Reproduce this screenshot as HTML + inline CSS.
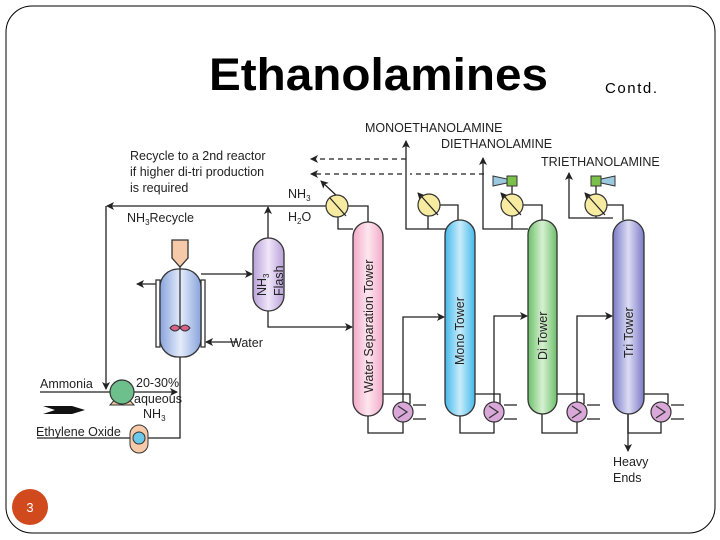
<!DOCTYPE html>
<html><head><meta charset="utf-8"><style>
html,body{margin:0;padding:0;background:#fff;}
svg{display:block;font-family:"Liberation Sans",Arial,sans-serif;}
</style></head><body>
<svg width="720" height="540" viewBox="0 0 720 540" xmlns="http://www.w3.org/2000/svg">
<defs>
<marker id="a" markerWidth="8" markerHeight="8" refX="7" refY="4" orient="auto" markerUnits="userSpaceOnUse"><path d="M0,0 L8,4 L0,8 L2,4 Z" fill="#222"/></marker>
<linearGradient id="gp" x1="0" x2="1"><stop offset="0" stop-color="#f3a9c8"/><stop offset=".5" stop-color="#fde6ef"/><stop offset="1" stop-color="#f3a9c8"/></linearGradient>
<linearGradient id="gb" x1="0" x2="1"><stop offset="0" stop-color="#44b8ea"/><stop offset=".5" stop-color="#c8ecfb"/><stop offset="1" stop-color="#44b8ea"/></linearGradient>
<linearGradient id="gg" x1="0" x2="1"><stop offset="0" stop-color="#6cc06a"/><stop offset=".5" stop-color="#d7f0d2"/><stop offset="1" stop-color="#6cc06a"/></linearGradient>
<linearGradient id="gv" x1="0" x2="1"><stop offset="0" stop-color="#7a7ac8"/><stop offset=".5" stop-color="#dcdcf4"/><stop offset="1" stop-color="#7a7ac8"/></linearGradient>
<linearGradient id="gr" x1="0" x2="1"><stop offset="0" stop-color="#88a4dc"/><stop offset=".5" stop-color="#e4ecfa"/><stop offset="1" stop-color="#88a4dc"/></linearGradient>
<linearGradient id="gf" x1="0" x2="1"><stop offset="0" stop-color="#b9a0d8"/><stop offset=".5" stop-color="#efe6f8"/><stop offset="1" stop-color="#b9a0d8"/></linearGradient>
</defs>
<rect x="6" y="6" width="709" height="527" rx="26" fill="none" stroke="#000" stroke-width="1"/>
<text x="209" y="90" font-size="45" font-weight="bold" textLength="339" lengthAdjust="spacingAndGlyphs">Ethanolamines</text>
<text x="605" y="93" font-size="15" textLength="52" lengthAdjust="spacing">Contd.</text>
<circle cx="30" cy="507" r="18" fill="#d04a1e"/>
<text x="30" y="512" font-size="13" fill="#fff" text-anchor="middle">3</text>

<g stroke="#222" stroke-width="1.3" fill="none">
<path d="M326 206 H107" marker-end="url(#a)"/>
<path d="M106 206 V389" marker-end="url(#a)"/>
<path d="M268 238 V207" marker-end="url(#a)"/>
<path d="M338 197 L321 181" marker-end="url(#a)"/>
<path d="M348 206 H368 V222"/>
<path d="M338 216 V229 H353"/>
<path d="M406 159 H311" stroke-dasharray="5,4" marker-end="url(#a)"/>
<path d="M402 174 H311" stroke-dasharray="5,4" marker-end="url(#a)"/>
<path d="M484 174 H410" stroke-dasharray="5,4"/>
<path d="M446 229 H406 V141" marker-end="url(#a)"/>
<path d="M428 216 V229"/><path d="M440 205 H458 V220"/>
<path d="M528 229 H483 V158" marker-end="url(#a)"/>
<path d="M512 216 V229"/><path d="M523 205 H542 V220"/>
<path d="M512 194 V185"/>
<path d="M613 218 H569 V173" marker-end="url(#a)"/>
<path d="M596 216 V218"/><path d="M607 205 H623 V220"/>
<path d="M596 194 V185"/>
<path d="M437 214 L418 193" marker-end="url(#a)"/>
<path d="M520 214 L501 193" marker-end="url(#a)"/>
<path d="M604 214 L585 193" marker-end="url(#a)"/>
<path d="M268 311 V327 H352" marker-end="url(#a)"/>
<path d="M201 274 H252" marker-end="url(#a)"/>
<path d="M160 284 H137" marker-end="url(#a)"/>
<path d="M238 342 H206" marker-end="url(#a)"/>
<path d="M180 357 V438 H37"/>
<path d="M40 392 H177" marker-end="url(#a)"/>
<path d="M383 394 H410 V404"/><path d="M368 416 V433 H403 V422"/><path d="M403 402 V317 H444" marker-end="url(#a)"/>
<path d="M475 394 H500 V404"/><path d="M460 416 V433 H494 V422"/><path d="M494 402 V316 H527" marker-end="url(#a)"/>
<path d="M557 394 H584 V404"/><path d="M542 414 V433 H577 V422"/><path d="M577 402 V316 H612" marker-end="url(#a)"/>
<path d="M644 394 H668 V404"/><path d="M628 414 V433 H661 V422"/>
<path d="M628 414 V451" marker-end="url(#a)"/>
<path d="M413 405 H426 M413 419 H426 M504 405 H517 M504 419 H517 M587 405 H600 M587 419 H600 M671 405 H684 M671 419 H684"/>
</g>

<g stroke="#333" stroke-width="1.3">
<rect x="353" y="222" width="30" height="194" rx="15" fill="url(#gp)"/>
<rect x="445" y="220" width="30" height="196" rx="15" fill="url(#gb)"/>
<rect x="528" y="220" width="29" height="194" rx="14.5" fill="url(#gg)"/>
<rect x="613" y="220" width="31" height="194" rx="15.5" fill="url(#gv)"/>
<rect x="253" y="238" width="31" height="73" rx="15.5" fill="url(#gf)"/>
<rect x="156" y="280" width="4" height="67" fill="#fff"/>
<rect x="201" y="280" width="4" height="67" fill="#fff"/>
<rect x="160" y="269" width="41" height="88" rx="18" fill="url(#gr)"/>
<path d="M172 240 H188 V258 L180 267 L172 258 Z" fill="#f6c9a8"/>
<line x1="180" y1="267" x2="180" y2="328"/>
</g>
<path d="M170 328 Q175 322 180 328 Q185 334 190 328 Q185 322 180 328 Q175 334 170 328Z" fill="#d8628a" stroke="#333" stroke-width="1"/>

<g stroke="#333" stroke-width="1.2" fill="#f6eba0">
<circle cx="337" cy="206" r="11"/><circle cx="429" cy="205" r="11"/><circle cx="512" cy="205" r="11"/><circle cx="596" cy="205" r="11"/>
</g>
<g stroke="#222" stroke-width="1.2">
<line x1="330" y1="198" x2="346" y2="216"/><line x1="422" y1="197" x2="438" y2="215"/><line x1="505" y1="197" x2="521" y2="215"/><line x1="589" y1="197" x2="605" y2="215"/>
</g>
<g stroke="#333" stroke-width="1">
<rect x="507" y="176" width="10" height="10" fill="#7cc04c"/>
<path d="M493 176 L507 179 V183 L493 186 Z" fill="#9cc8e0"/>
<rect x="591" y="176" width="10" height="10" fill="#7cc04c"/>
<path d="M615 176 L601 179 V183 L615 186 Z" fill="#9cc8e0"/>
</g>
<g stroke="#333" stroke-width="1.2" fill="#d9a8d8">
<circle cx="403" cy="412" r="10"/><circle cx="494" cy="412" r="10"/><circle cx="577" cy="412" r="10"/><circle cx="661" cy="412" r="10"/>
</g>
<g stroke="#333" stroke-width="1.2" fill="none">
<path d="M398 406 L407 412 L398 418"/><path d="M489 406 L498 412 L489 418"/><path d="M572 406 L581 412 L572 418"/><path d="M656 406 L665 412 L656 418"/>
</g>
<path d="M110 405 L134 405 L126 396 L118 396 Z" fill="#e8c8a0" stroke="#333"/>
<circle cx="122" cy="392" r="12" fill="#6dbf8c" stroke="#333" stroke-width="1.2"/>
<rect x="130" y="425" width="18" height="28" rx="9" fill="#f6c9a8" stroke="#333"/>
<circle cx="139" cy="438" r="6" fill="#6cc8e8" stroke="#333"/>
<path d="M43 406 H72 L85 410 L72 414 H43 L55 410 Z" fill="#111"/>

<g font-size="12.5" fill="#222">
<text x="130" y="160">Recycle to a 2nd reactor</text>
<text x="130" y="176">if higher di-tri production</text>
<text x="130" y="192">is required</text>
<text x="288" y="198">NH<tspan font-size="8" dy="3">3</tspan></text>
<text x="288" y="221">H<tspan font-size="8" dy="3">2</tspan><tspan dy="-3">O</tspan></text>
<text x="127" y="222">NH<tspan font-size="8" dy="3">3</tspan><tspan dy="-3">Recycle</tspan></text>
<text x="230" y="347">Water</text>
<text x="40" y="388">Ammonia</text>
<text x="136" y="387">20-30%</text>
<text x="134" y="403">aqueous</text>
<text x="143" y="418">NH<tspan font-size="8" dy="3">3</tspan></text>
<text x="36" y="436">Ethylene Oxide</text>
<text x="365" y="132">MONOETHANOLAMINE</text>
<text x="441" y="148">DIETHANOLAMINE</text>
<text x="541" y="166">TRIETHANOLAMINE</text>
<text x="613" y="466">Heavy</text>
<text x="613" y="482">Ends</text>
<text transform="translate(373,393) rotate(-90)">Water Separation Tower</text>
<text transform="translate(464,365) rotate(-90)">Mono Tower</text>
<text transform="translate(547,360) rotate(-90)">Di Tower</text>
<text transform="translate(633,358) rotate(-90)">Tri Tower</text>
<text transform="translate(266,296) rotate(-90)">NH<tspan font-size="8" dy="3">3</tspan></text>
<text transform="translate(283,296) rotate(-90)">Flash</text>
</g>
</svg>
</body></html>
